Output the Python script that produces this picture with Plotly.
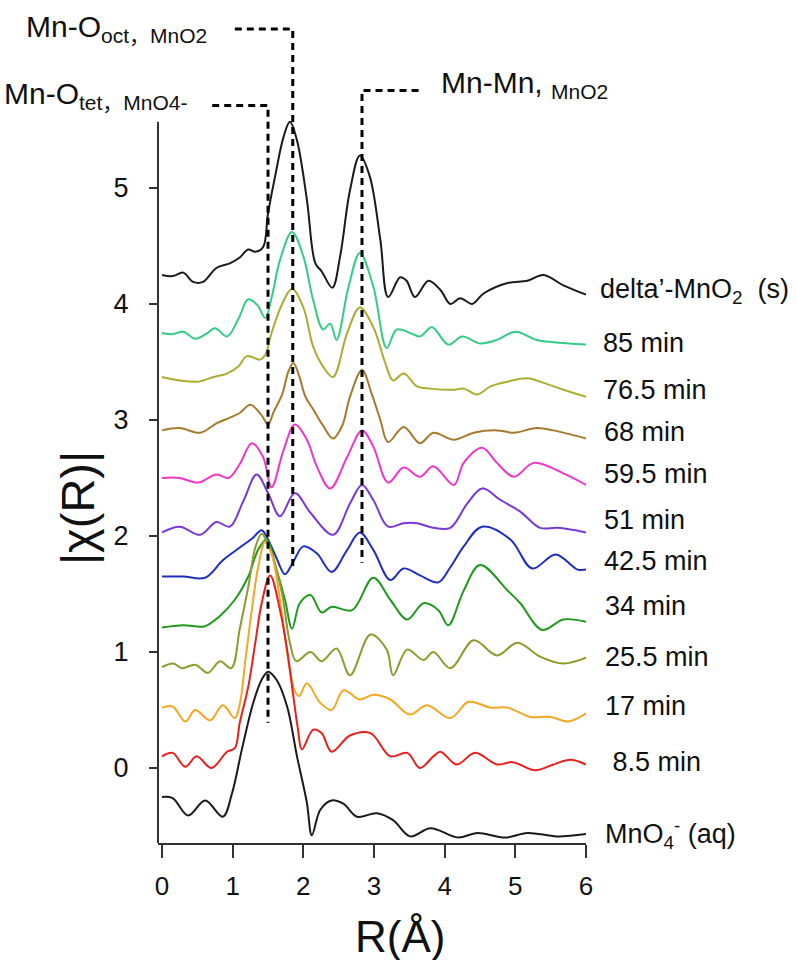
import plotly.graph_objects as go

FONT = "Liberation Sans, Arial, Noto Sans CJK SC, sans-serif"

# ---- |chi(R)| traces (stacked with vertical offsets), R in Angstrom ----
R_DELTA = [0.0, 0.15, 0.3, 0.44, 0.58, 0.77, 0.96, 1.1, 1.22, 1.32, 1.43, 1.5, 1.6, 1.72,
           1.81, 1.91, 2.05, 2.17, 2.26, 2.41, 2.52, 2.66, 2.8, 2.94, 3.09, 3.2, 3.37, 3.46, 3.58,
           3.77, 3.94, 4.08, 4.22, 4.39, 4.55, 4.89, 5.17, 5.4, 5.68, 6.0]
CHI_DELTA = [4.25, 4.24, 4.27, 4.19, 4.19, 4.31, 4.35, 4.4, 4.47, 4.45, 4.49, 4.78, 5.1, 5.44,
             5.57, 5.41, 4.9, 4.35, 4.28, 4.14, 4.41, 4.98, 5.28, 5.1, 4.55, 4.06, 4.23, 4.2, 4.06,
             4.2, 4.12, 4.0, 4.05, 4.0, 4.09, 4.18, 4.2, 4.25, 4.16, 4.08]

R_T85 = [0.0, 0.15, 0.3, 0.47, 0.62, 0.75, 0.92, 1.08, 1.22, 1.35, 1.46, 1.56, 1.67, 1.84, 2.0,
         2.14, 2.28, 2.38, 2.47, 2.64, 2.8, 2.99, 3.18, 3.32, 3.51, 3.65, 3.82, 4.05, 4.25, 4.5,
         4.74, 5.0, 5.3, 5.54, 6.0]
CHI_T85 = [3.75, 3.74, 3.76, 3.70, 3.74, 3.79, 3.72, 3.87, 4.04, 3.99, 3.88, 4.08, 4.38, 4.62, 4.41,
           4.03, 3.78, 3.83, 3.69, 4.15, 4.44, 4.15, 3.62, 3.78, 3.75, 3.72, 3.80, 3.65, 3.72, 3.66,
           3.69, 3.76, 3.69, 3.67, 3.65]

R_T765 = [0.0, 0.25, 0.51, 0.73, 0.92, 1.08, 1.2, 1.39, 1.46, 1.55, 1.7, 1.84, 2.0, 2.14, 2.28,
          2.42, 2.62, 2.8, 2.99, 3.16, 3.27, 3.42, 3.61, 3.8, 4.13, 4.27, 4.46, 4.65, 4.89, 5.17,
          5.4, 5.68, 6.0]
CHI_T765 = [3.37, 3.34, 3.33, 3.37, 3.40, 3.46, 3.55, 3.52, 3.56, 3.75, 4.0, 4.13, 3.97, 3.63, 3.46,
            3.37, 3.75, 3.97, 3.80, 3.49, 3.34, 3.40, 3.29, 3.27, 3.26, 3.27, 3.22, 3.29, 3.33, 3.36,
            3.32, 3.26, 3.20]

R_T68 = [0.0, 0.25, 0.54, 0.77, 0.96, 1.1, 1.25, 1.41, 1.5, 1.58, 1.7, 1.79, 1.86, 1.94, 2.03,
         2.14, 2.28, 2.42, 2.55, 2.66, 2.83, 2.97, 3.09, 3.2, 3.42, 3.65, 3.84, 4.13, 4.41, 4.74,
         4.98, 5.3, 5.54, 6.0]
CHI_T68 = [2.91, 2.93, 2.89, 2.97, 3.02, 3.06, 3.13, 3.04, 2.96, 3.07, 3.22, 3.42, 3.49, 3.38, 3.2,
           3.09, 2.95, 2.84, 2.95, 3.2, 3.43, 3.22, 3.0, 2.81, 2.94, 2.80, 2.89, 2.83, 2.89, 2.91,
           2.89, 2.93, 2.91, 2.84]

R_T595 = [0.0, 0.25, 0.51, 0.77, 0.94, 1.1, 1.27, 1.43, 1.55, 1.72, 1.88, 2.05, 2.19, 2.38, 2.62,
          2.83, 2.99, 3.2, 3.42, 3.65, 3.84, 4.13, 4.27, 4.53, 4.74, 4.98, 5.26, 5.68, 6.0]
CHI_T595 = [2.50, 2.50, 2.46, 2.53, 2.50, 2.62, 2.80, 2.68, 2.42, 2.74, 2.96, 2.83, 2.60, 2.41, 2.68,
            2.91, 2.77, 2.46, 2.59, 2.51, 2.60, 2.44, 2.63, 2.76, 2.63, 2.51, 2.63, 2.54, 2.44]

R_T51 = [0.0, 0.25, 0.54, 0.77, 0.96, 1.15, 1.34, 1.5, 1.67, 1.88, 2.1, 2.42, 2.66, 2.83, 2.99,
         3.2, 3.42, 3.61, 3.84, 4.08, 4.32, 4.53, 4.79, 5.07, 5.35, 5.6, 6.0]
CHI_T51 = [2.03, 2.08, 2.01, 2.12, 2.08, 2.3, 2.53, 2.37, 2.17, 2.37, 2.20, 2.01, 2.28, 2.44, 2.31,
           2.08, 2.11, 2.11, 2.07, 2.07, 2.28, 2.41, 2.31, 2.21, 2.07, 2.07, 2.03]

R_T425 = [0.0, 0.3, 0.61, 0.86, 1.1, 1.28, 1.41, 1.5, 1.62, 1.74, 1.86, 2.0, 2.19, 2.4, 2.62,
          2.8, 2.99, 3.23, 3.42, 3.65, 3.91, 4.08, 4.27, 4.53, 4.93, 5.24, 5.57, 5.88, 6.0]
CHI_T425 = [1.65, 1.65, 1.64, 1.79, 1.90, 1.98, 2.05, 1.97, 1.81, 1.67, 1.78, 1.91, 1.85, 1.69, 1.88,
            2.03, 1.88, 1.62, 1.72, 1.66, 1.60, 1.73, 1.91, 2.08, 1.97, 1.72, 1.84, 1.71, 1.71]

R_T34 = [0.0, 0.3, 0.6, 0.8, 1.03, 1.22, 1.36, 1.48, 1.62, 1.74, 1.84, 1.95, 2.1, 2.26, 2.4,
         2.69, 2.99, 3.23, 3.47, 3.7, 3.91, 4.05, 4.27, 4.5, 4.89, 5.07, 5.38, 5.68, 6.0]
CHI_T34 = [1.21, 1.23, 1.22, 1.30, 1.45, 1.65, 1.88, 1.97, 1.71, 1.45, 1.20, 1.42, 1.49, 1.34, 1.39,
           1.36, 1.64, 1.45, 1.28, 1.42, 1.36, 1.23, 1.53, 1.75, 1.53, 1.42, 1.19, 1.28, 1.26]

R_T255 = [0.0, 0.16, 0.28, 0.47, 0.65, 0.82, 0.98, 1.1, 1.22, 1.32, 1.41, 1.5, 1.6, 1.7, 1.81,
          1.9, 2.1, 2.26, 2.47, 2.66, 2.95, 3.18, 3.27, 3.47, 3.7, 3.84, 4.08, 4.41, 4.74, 5.03,
          5.35, 5.68, 6.0]
CHI_T255 = [0.87, 0.90, 0.86, 0.89, 0.82, 0.92, 0.86, 1.2, 1.56, 1.9, 2.02, 1.93, 1.75, 1.5, 1.08,
            0.92, 1.0, 0.92, 1.03, 0.80, 1.15, 1.02, 0.80, 1.02, 0.93, 1.0, 0.86, 1.10, 0.97, 1.08,
            0.96, 0.90, 0.95]

R_T17 = [0.0, 0.15, 0.33, 0.47, 0.68, 0.86, 1.03, 1.1, 1.18, 1.27, 1.36, 1.46, 1.55, 1.62, 1.74,
         1.81, 1.88, 1.94, 2.05, 2.24, 2.4, 2.57, 2.8, 2.99, 3.23, 3.51, 3.75, 4.08, 4.34, 4.65,
         4.89, 5.21, 5.5, 5.75, 6.0]
CHI_T17 = [0.52, 0.53, 0.40, 0.50, 0.41, 0.54, 0.43, 0.55, 0.93, 1.36, 1.73, 1.95, 1.85, 1.65, 1.13,
           0.84, 0.66, 0.62, 0.73, 0.56, 0.50, 0.67, 0.59, 0.63, 0.59, 0.46, 0.54, 0.43, 0.57, 0.52,
           0.52, 0.44, 0.44, 0.40, 0.47]

R_T8_5 = [0.0, 0.15, 0.33, 0.49, 0.7, 0.92, 1.03, 1.1, 1.22, 1.32, 1.41, 1.53, 1.67, 1.77, 1.86,
          1.92, 1.98, 2.14, 2.26, 2.4, 2.66, 2.95, 3.23, 3.47, 3.65, 3.84, 3.94, 4.17, 4.43, 4.74,
          4.96, 5.28, 5.54, 5.78, 6.0]
CHI_T8_5 = [0.10, 0.13, 0.01, 0.10, 0.0, 0.14, 0.17, 0.39, 0.7, 1.08, 1.42, 1.66, 1.36, 1.02, 0.61,
            0.35, 0.16, 0.33, 0.30, 0.14, 0.28, 0.30, 0.10, 0.13, 0.0, 0.10, 0.14, 0.03, 0.13, 0.03,
            0.05, -0.02, 0.03, 0.07, 0.03]

R_MNO4 = [0.0, 0.15, 0.37, 0.61, 0.86, 0.99, 1.13, 1.29, 1.41, 1.5, 1.62, 1.77, 1.91, 2.05, 2.12,
          2.24, 2.4, 2.57, 2.76, 3.04, 3.27, 3.51, 3.8, 4.19, 4.46, 4.86, 5.17, 5.59, 6.0]
CHI_MNO4 = [-0.25, -0.26, -0.41, -0.28, -0.42, -0.22, 0.16, 0.56, 0.76, 0.83, 0.76, 0.53, 0.10, -0.30, -0.58,
            -0.36, -0.28, -0.31, -0.42, -0.39, -0.45, -0.59, -0.52, -0.60, -0.56, -0.60, -0.56, -0.59, -0.57]

LABELS = ["delta’-MnO<sub>2</sub>  (s)", "85 min", "76.5 min", "68 min", "59.5 min", "51 min",
          "42.5 min", "34 min", "25.5 min", "17 min", " 8.5 min", "MnO<sub>4</sub><sup>-</sup> (aq)"]
R_SERIES = [R_DELTA, R_T85, R_T765, R_T68, R_T595, R_T51, R_T425, R_T34, R_T255, R_T17, R_T8_5, R_MNO4]
CHI_SERIES = [CHI_DELTA, CHI_T85, CHI_T765, CHI_T68, CHI_T595, CHI_T51, CHI_T425, CHI_T34, CHI_T255,
              CHI_T17, CHI_T8_5, CHI_MNO4]

# ---- styling ----
COLORS = ["#1a1a1a", "#33cc85", "#adab30", "#a57a2c", "#f035c8", "#7a38d6",
          "#1f2dc0", "#1f9a1f", "#8c9b2c", "#f5a623", "#ee1d1d", "#1a1a1a"]
# level at which each curve name is written, and its left edge in px
LABEL_Y = [4.11, 3.66, 3.26, 2.90, 2.53, 2.14, 1.78, 1.40, 0.96, 0.53, 0.05, -0.57]
LABEL_LEFT_PX = [598, 601, 601, 602, 602, 602, 602, 603, 603, 603, 603, 603]

# reference distances marked with dashed guides
GUIDE_R = [1.50, 1.85, 2.83]
GUIDE_TOP = [5.71, 6.37, 5.84]
GUIDE_BOTTOM = [0.39, 1.73, 1.77]
GUIDE_ARM_END = [0.71, 1.03, 3.63]
GUIDE_TEXT = ["Mn-O<sub>tet，MnO4-</sub>", "Mn-O<sub>oct，MnO2</sub>", "Mn-Mn, <sub>MnO2</sub>"]

W, H = 797, 960
M_L, M_R, M_T, M_B = 158, 211, 10, 117
X_RANGE = [-0.057, 6.0]
Y_RANGE = [-0.647, 6.534]
AXIS_TOP = 5.57


def paper_x(px):
    return (px - M_L) / (W - M_L - M_R)


def paper_y(py):
    return (H - M_B - py) / (H - M_T - M_B)


fig = go.Figure()
for r, chi, color in zip(R_SERIES, CHI_SERIES, COLORS):
    fig.add_trace(go.Scatter(x=r, y=chi, mode="lines",
                             line=dict(color=color, width=2, shape="spline", smoothing=1.0),
                             showlegend=False, hoverinfo="skip"))

shapes = []
# y axis line (stops below the top of the plotting area)
shapes.append(dict(type="line", xref="paper", yref="y", x0=0, x1=0,
                   y0=Y_RANGE[0], y1=AXIS_TOP, line=dict(color="#333333", width=2)))
for r, top, bottom, arm in zip(GUIDE_R, GUIDE_TOP, GUIDE_BOTTOM, GUIDE_ARM_END):
    shapes.append(dict(type="path", xref="x", yref="y",
                       path=f"M {arm},{top} L {r},{top} L {r},{bottom}",
                       line=dict(color="black", width=3, dash="7px,5px")))

annotations = []
for text, y, left in zip(LABELS, LABEL_Y, LABEL_LEFT_PX):
    annotations.append(dict(text=text, xref="paper", yref="y", x=paper_x(left), y=y,
                            xanchor="left", yanchor="middle", showarrow=False,
                            font=dict(family=FONT, size=27, color="#111111")))

guide_anchor = [("right", -22, 10), ("right", -26, 1), ("left", 20, 6)]
for text, arm, top, (anchor, dx, dy) in zip(GUIDE_TEXT, GUIDE_ARM_END, GUIDE_TOP, guide_anchor):
    annotations.append(dict(text=text, xref="x", yref="y", x=arm, y=top,
                            xanchor=anchor, yanchor="middle", xshift=dx, yshift=dy,
                            showarrow=False, font=dict(family=FONT, size=30, color="#111111")))

# axis titles
annotations.append(dict(text="|χ(R)|", xref="paper", yref="y", x=paper_x(77), y=2.24,
                        textangle=-90, xanchor="center", yanchor="middle", showarrow=False,
                        font=dict(family=FONT, size=47, color="#111111")))
annotations.append(dict(text="R(Å)", xref="paper", yref="paper", x=paper_x(400), y=paper_y(936),
                        xanchor="center", yanchor="middle", showarrow=False,
                        font=dict(family=FONT, size=44, color="#111111")))

fig.update_layout(
    width=W, height=H,
    margin=dict(l=M_L, r=M_R, t=M_T, b=M_B),
    paper_bgcolor="white", plot_bgcolor="white",
    shapes=shapes, annotations=annotations,
    xaxis=dict(range=X_RANGE, showgrid=False, zeroline=False,
               showline=True, linecolor="#333333", linewidth=2,
               ticks="outside", ticklen=13, tickwidth=2, tickcolor="#333333",
               tickvals=[0, 1, 2, 3, 4, 5, 6], ticklabelstandoff=6,
               tickfont=dict(family=FONT, size=26, color="#111111")),
    yaxis=dict(range=Y_RANGE, showgrid=False, zeroline=False, showline=False,
               ticks="outside", ticklen=8, tickwidth=2, tickcolor="#333333",
               tickvals=[0, 1, 2, 3, 4, 5], ticklabelstandoff=15,
               tickfont=dict(family=FONT, size=27, color="#111111")),
)

fig.write_html("out.html")
